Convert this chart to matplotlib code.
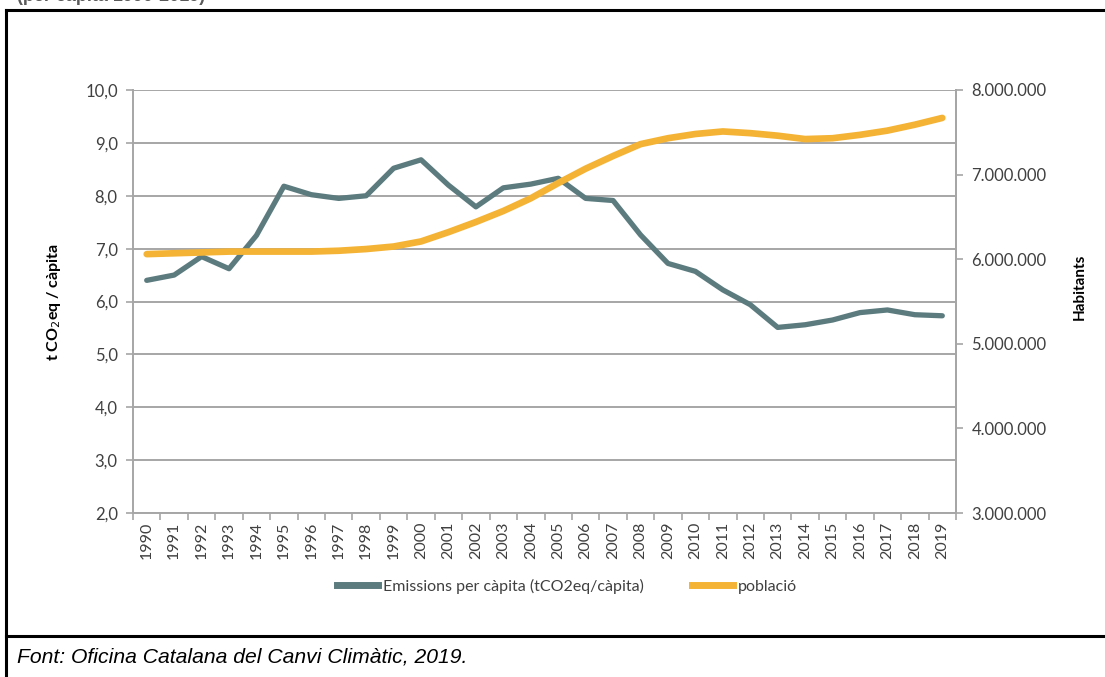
import numpy as np
import matplotlib
matplotlib.use("Agg")
import matplotlib.pyplot as plt
from matplotlib.lines import Line2D
from matplotlib.ticker import FuncFormatter, FixedLocator

# Emissions per capita and population, Catalonia 1990-2019
years = list(range(1990, 2020))
emissions = [6.40, 6.50, 6.85, 6.62, 7.25, 8.18, 8.02, 7.95, 8.00, 8.52,
             8.68, 8.20, 7.79, 8.15, 8.22, 8.33, 7.95, 7.91, 7.26, 6.72,
             6.57, 6.22, 5.94, 5.51, 5.56, 5.65, 5.79, 5.84, 5.75, 5.73]
population = [6.06, 6.07, 6.08, 6.09, 6.09, 6.09, 6.09, 6.10, 6.12, 6.15,
              6.21, 6.32, 6.44, 6.57, 6.72, 6.90, 7.07, 7.22, 7.36, 7.43,
              7.48, 7.51, 7.49, 7.46, 7.42, 7.43, 7.47, 7.52, 7.59, 7.67]
population = [p * 1e6 for p in population]

emis_label = "Emissions per càpita (tCO2eq/càpita)"
pop_label = "població"
source = "Font: Oficina Catalana del Canvi Climàtic, 2019."

EMIS_COLOR = "#5b7b7f"
POP_COLOR = "#f5b335"
AXIS_COLOR = "#a6a6a6"
TEXT_COLOR = "#404040"

plt.rcParams["font.family"] = ["Lato", "DejaVu Sans"]

fig = plt.figure(figsize=(11.05, 6.77), dpi=100)

# frame lines around the figure panel
fig.add_artist(Line2D([6 / 1105, 1], [1 - 10 / 677] * 2, color="black", lw=2.2,
                      transform=fig.transFigure))
fig.add_artist(Line2D([6 / 1105] * 2, [0, 1 - 10 / 677], color="black", lw=2.2,
                      transform=fig.transFigure))
fig.add_artist(Line2D([6 / 1105, 1], [1 - 636 / 677] * 2, color="black", lw=2.2,
                      transform=fig.transFigure))

# title line running off the top edge
fig.text(17 / 1105, 1 - 5 / 677, "(per càpita 1990-2019)", family="Liberation Sans",
         weight="bold", fontsize=13, color="#595959", va="bottom", ha="left")

fig.text(17 / 1105, 1 - 657 / 677, source, family="Liberation Sans", style="italic",
         fontsize=15.2, color="black", va="center", ha="left")

ax = fig.add_axes([133 / 1105, 1 - 513 / 677, (956 - 133) / 1105, (513 - 90) / 677])
x = np.arange(len(years))

ax.plot(x, emissions, color=EMIS_COLOR, lw=3.8, solid_joinstyle="round",
        solid_capstyle="round", label=emis_label)
ax.set_xlim(-0.5, len(years) - 0.5)
ax.set_ylim(2, 10)
ax.set_yticks(np.arange(2, 10.5, 1))
ax.yaxis.set_major_formatter(FuncFormatter(lambda v, p: f"{v:.1f}".replace(".", ",")))
ax.grid(axis="y", color=AXIS_COLOR, lw=1.4)
ax.set_axisbelow(True)

# year labels at category centres, tick marks between categories
ax.xaxis.set_major_locator(FixedLocator(np.arange(-0.5, len(years), 1)))
ax.xaxis.set_minor_locator(FixedLocator(x))
ax.set_xticklabels([])
ax.set_xticklabels([str(y) for y in years], minor=True, rotation=90)
ax.tick_params(axis="x", which="major", length=5, color=AXIS_COLOR, width=1.2)
ax.tick_params(axis="x", which="minor", length=0, pad=6, labelsize=11.5,
               labelcolor=TEXT_COLOR)
ax.tick_params(axis="y", length=5, color=AXIS_COLOR, width=1.2, labelsize=12,
               labelcolor=TEXT_COLOR, pad=6)

ax.spines["top"].set_visible(False)
for side in ["left", "bottom", "right"]:
    ax.spines[side].set_color(AXIS_COLOR)
    ax.spines[side].set_linewidth(1.4)

ax.set_ylabel("t CO$_2$eq / càpita", fontsize=11.5, weight="bold")
ax.yaxis.set_label_coords(-0.085, 0.5)

ax2 = ax.twinx()
ax2.plot(x, population, color=POP_COLOR, lw=4.8, solid_joinstyle="round",
         solid_capstyle="round", label=pop_label)
ax2.set_ylim(3e6, 8e6)
ax2.set_yticks(np.arange(3e6, 8.5e6, 1e6))
ax2.yaxis.set_major_formatter(FuncFormatter(lambda v, p: f"{int(v):,}".replace(",", ".")))
ax2.tick_params(axis="y", length=5, color=AXIS_COLOR, width=1.2, labelsize=12,
                labelcolor=TEXT_COLOR, pad=6)
for side in ["top", "left", "bottom"]:
    ax2.spines[side].set_visible(False)
ax2.spines["right"].set_color(AXIS_COLOR)
ax2.spines["right"].set_linewidth(1.4)
ax2.set_ylabel("Habitants", fontsize=11, weight="bold")
ax2.yaxis.set_label_coords(1.142, 0.534)

handles = [Line2D([], [], color=EMIS_COLOR, lw=5), Line2D([], [], color=POP_COLOR, lw=5)]
fig.legend(handles, [emis_label, pop_label], loc="center", ncol=2, frameon=False,
           bbox_to_anchor=(567 / 1105, 1 - 586 / 677), fontsize=11.5,
           handlelength=2.6, handletextpad=0.3, columnspacing=3.0,
           labelcolor=TEXT_COLOR)

fig.savefig("out.png", dpi=100)
